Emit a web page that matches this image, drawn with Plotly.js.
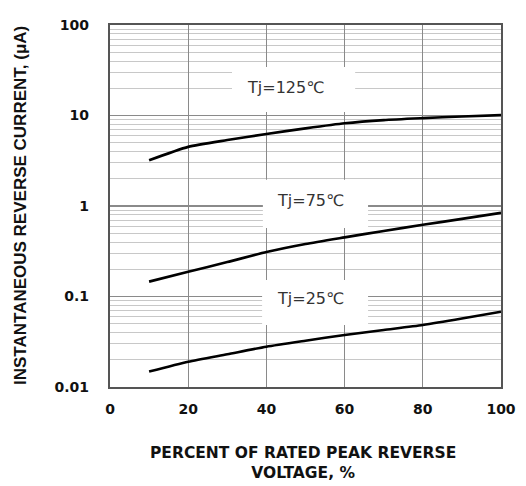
<!DOCTYPE html>
<html>
<head>
<meta charset="utf-8">
<script src="https://cdn.plot.ly/plotly-3.0.1.min.js"></script>
<style>html,body{margin:0;padding:0;background:#fff;}#chart{width:526px;height:486px;}</style>
</head>
<body>
<div id="chart"></div>
<script>
var voltagePct = [10, 20, 30, 40, 50, 60, 70, 80, 90, 100];
var current125 = [3.2, 4.5, 5.35, 6.25, 7.2, 8.2, 8.9, 9.35, 9.75, 10.1];
var current75 = [0.146, 0.188, 0.24, 0.31, 0.38, 0.45, 0.53, 0.62, 0.72, 0.84];
var current25 = [0.0148, 0.019, 0.023, 0.0279, 0.0325, 0.0376, 0.0427, 0.0484, 0.057, 0.068];
var seriesLabels = ["Tj=125℃", "Tj=75℃", "Tj=25℃"];
var xTicks = [0, 20, 40, 60, 80, 100];
var yTicks = [0.01, 0.1, 1, 10, 100];
var yTickText = ["0.01", "0.1", "1", "10", "100"];
var xTitle = "PERCENT OF RATED PEAK REVERSE<br>VOLTAGE, %";
var yTitle = "INSTANTANEOUS REVERSE CURRENT, (μA)";

var lineStyle = {color: '#000', width: 2.6, shape: 'spline', smoothing: 0.6};
var traces = [current125, current75, current25].map(function (vals, i) {
  return {x: voltagePct, y: vals, type: 'scatter', mode: 'lines', line: lineStyle, name: seriesLabels[i], showlegend: false, hoverinfo: 'skip'};
});

var wideFont = '"DejaVu Sans", Arial, sans-serif';
var armFont = '"Liberation Sans", Arial, sans-serif';
var boxes = [
  {x0: 31.2, x1: 62.7, y0: 10.9, y1: 34.4},
  {x0: 39.1, x1: 66.0, y0: 0.57, y1: 1.95},
  {x0: 38.9, x1: 66.0, y0: 0.0484, y1: 0.152}
];
var labelPos = [
  {x: 44.8, y: 1.31},
  {x: 51.2, y: 0.062},
  {x: 51.2, y: -1.02}
];

var annotations = labelPos.map(function (p, i) {
  return {xref: 'x', yref: 'y', x: p.x, y: p.y, text: seriesLabels[i], showarrow: false, font: {size: 16, family: wideFont, color: '#333'}};
});
annotations.push({xref: 'paper', yref: 'paper', x: 0.494, y: (387 - 463) / 362, xanchor: 'center', yanchor: 'middle', text: xTitle, showarrow: false, font: {size: 15.5, family: wideFont, weight: 'bold', color: '#111'}});
annotations.push({xref: 'paper', yref: 'paper', x: (20 - 110) / 391, y: (387 - 206) / 362, xanchor: 'center', yanchor: 'middle', textangle: -90, text: yTitle, showarrow: false, font: {size: 17, family: armFont, weight: 'bold', color: '#111'}});

var layout = {
  width: 526, height: 486,
  margin: {l: 110, r: 25, t: 25, b: 99},
  paper_bgcolor: '#fff', plot_bgcolor: '#fff',
  font: {family: wideFont, color: '#000'},
  xaxis: {
    range: [0, 100], tickvals: xTicks, ticks: '',
    showgrid: true, gridcolor: '#8a8a8a', gridwidth: 1.2,
    zeroline: false, showline: true, linecolor: '#555', linewidth: 2.2, mirror: true,
    tickfont: {size: 14, family: wideFont, weight: 'bold', color: '#111'},
    ticklabelstandoff: 8
  },
  yaxis: {
    type: 'log', range: [-2, 2], tickvals: yTicks, ticktext: yTickText, ticks: '',
    showgrid: true, gridcolor: '#8a8a8a', gridwidth: 1.2,
    minor: {dtick: 'D1', showgrid: true, gridcolor: '#c8c8c8', gridwidth: 1, ticks: ''},
    zeroline: false, showline: true, linecolor: '#555', linewidth: 2.2, mirror: true,
    tickfont: {size: 14, family: wideFont, weight: 'bold', color: '#111'},
    ticklabelstandoff: 16
  },
  shapes: boxes.map(function (b) {
    return {type: 'rect', xref: 'x', yref: 'y', x0: b.x0, x1: b.x1, y0: b.y0, y1: b.y1, fillcolor: '#fff', line: {width: 0}, layer: 'between'};
  }),
  annotations: annotations
};

Plotly.newPlot('chart', traces, layout, {displayModeBar: false, staticPlot: true});
</script>
</body>
</html>
